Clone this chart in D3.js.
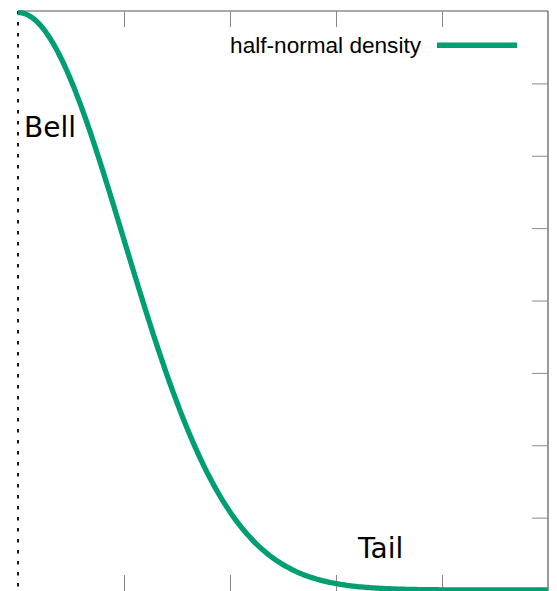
<!DOCTYPE html>
<html>
<head>
<meta charset="utf-8">
<script src="https://cdn.jsdelivr.net/npm/d3@7"></script>
<style>
  html, body { margin: 0; padding: 0; background: #fff; }
  svg { display: block; }
</style>
</head>
<body>
<svg id="chart" width="557" height="591"></svg>
<script>
// Half-normal density (sigma = 1) sampled on [0, 5]
const xValues = d3.range(0, 5.0001, 0.02);
const sigma = 1;
const densityValues = xValues.map(x => Math.sqrt(2 / Math.PI) / sigma * Math.exp(-x * x / (2 * sigma * sigma)));
const xTicks = [0, 1, 2, 3, 4, 5];
const yTicks = [0, 0.1, 0.2, 0.3, 0.4, 0.5, 0.6, 0.7, 0.8];
const seriesName = "half-normal density";
const regionLabels = ["Bell", "Tail"];

const svg = d3.select("#chart");
const plotLeft = 18, plotRight = 548, plotTop = 11, plotBottom = 590;

const x = d3.scaleLinear().domain([0, 5]).range([plotLeft, plotRight]);
const y = d3.scaleLinear().domain([0, 0.8]).range([plotBottom, plotTop]);

const frameColor = "#555";
const tickColor = "#888";
const green = "#009e73";

// frame: top and right edges
svg.append("line").attr("x1", plotLeft).attr("x2", plotRight).attr("y1", plotTop).attr("y2", plotTop)
  .attr("stroke", frameColor).attr("stroke-width", 1.2);
svg.append("line").attr("x1", plotRight).attr("x2", plotRight).attr("y1", plotTop).attr("y2", plotBottom + 1)
  .attr("stroke", frameColor).attr("stroke-width", 1.2);

// tick marks along bottom, top and right, no labels
const bottomAxis = d3.axisTop(x).tickValues(xTicks.slice(1, -1)).tickSize(16).tickFormat("");
svg.append("g").attr("transform", `translate(0,${plotBottom + 1})`).call(bottomAxis)
  .call(g => g.select(".domain").remove())
  .call(g => g.selectAll(".tick line").attr("stroke", tickColor));

const topAxis = d3.axisBottom(x).tickValues(xTicks.slice(1, -1)).tickSize(16).tickFormat("");
svg.append("g").attr("transform", `translate(0,${plotTop})`).call(topAxis)
  .call(g => g.select(".domain").remove())
  .call(g => g.selectAll(".tick line").attr("stroke", tickColor));

const rightAxis = d3.axisLeft(y).tickValues(yTicks.slice(1, -1)).tickSize(16).tickFormat("");
svg.append("g").attr("transform", `translate(${plotRight},0)`).call(rightAxis)
  .call(g => g.select(".domain").remove())
  .call(g => g.selectAll(".tick line").attr("stroke", tickColor));

// dashed zero line on the left
svg.append("line").attr("x1", x(0)).attr("x2", x(0)).attr("y1", plotTop).attr("y2", 591)
  .attr("stroke", "#000").attr("stroke-width", 1.8).attr("stroke-dasharray", "3.5,7.5");

// density curve
const line = d3.line().x((d, i) => x(xValues[i])).y(d => y(d)).curve(d3.curveLinear);
svg.append("path").datum(densityValues)
  .attr("d", line)
  .attr("fill", "none").attr("stroke", green).attr("stroke-width", 5.3)
  .attr("stroke-linejoin", "round").attr("stroke-linecap", "butt");

// legend
svg.append("text").attr("x", 421).attr("y", 53.3).attr("text-anchor", "end")
  .attr("font-family", "'Liberation Sans', Arial, sans-serif").attr("font-size", 22.6)
  .attr("fill", "#000").text(seriesName);
svg.append("line").attr("x1", 437).attr("x2", 517).attr("y1", 45.3).attr("y2", 45.3)
  .attr("stroke", green).attr("stroke-width", 5.5);

// region labels
const labelPos = [[24, 137], [358, 558]];
svg.selectAll("text.region").data(regionLabels).enter().append("text")
  .attr("class", "region")
  .attr("x", (d, i) => labelPos[i][0])
  .attr("y", (d, i) => labelPos[i][1])
  .attr("font-family", "'DejaVu Sans', sans-serif").attr("font-size", 28)
  .attr("fill", "#000").text(d => d);
</script>
</body>
</html>
